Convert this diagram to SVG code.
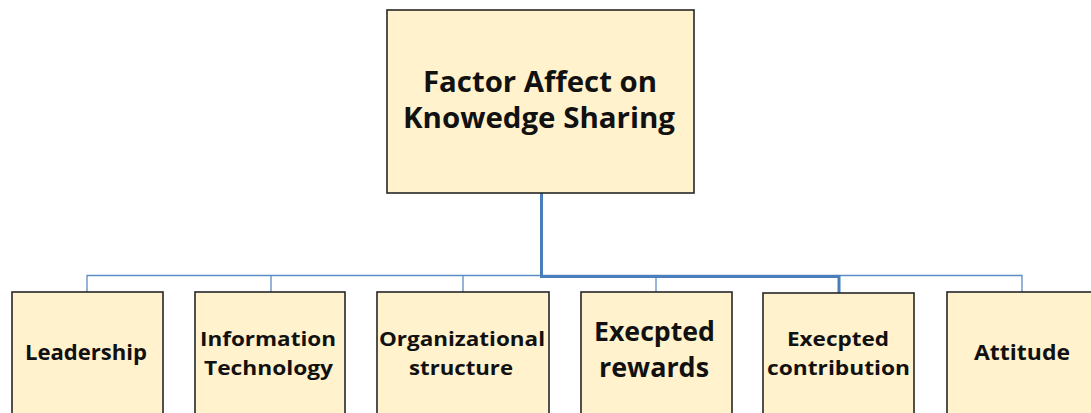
<svg xmlns="http://www.w3.org/2000/svg" width="1091" height="413" viewBox="0 0 1091 413">
  <style>
    .box { fill: #FFF2CC; stroke: #262626; stroke-width: 1.6; }
    .lbl { font-family: "Open Sans", "Liberation Sans", sans-serif; font-weight: 700; fill: #111; text-anchor: middle; }
    .thin { fill: none; stroke: #5B8CC4; stroke-width: 1.3; }
    .thick { fill: none; stroke: #4A7EBB; stroke-width: 3; }
  </style>
  <rect width="1091" height="413" fill="#FFFFFF"/>

  <!-- connectors -->
  <g id="connectors">
    <path class="thin" d="M87 292 V275.5 H1022 V292"/>
    <path class="thin" d="M271 292 V275.5"/>
    <path class="thin" d="M463 292 V275.5"/>
    <path class="thin" d="M656 292 V275.5"/>
    <path class="thick" d="M541.5 193 V276.5 H839 V293"/>
  </g>

  <!-- root -->
  <g id="root">
    <rect class="box" x="387" y="10" width="307" height="183"/>
    <text class="lbl" x="540" y="92" font-size="28" textLength="234" lengthAdjust="spacingAndGlyphs">Factor  Affect on</text>
    <text class="lbl" x="539" y="128" font-size="28" textLength="272" lengthAdjust="spacingAndGlyphs">Knowedge Sharing</text>
  </g>

  <g id="leadership">
    <rect class="box" x="12" y="292" width="151" height="130"/>
    <text class="lbl" x="86" y="360" font-size="22" textLength="122" lengthAdjust="spacingAndGlyphs">Leadership</text>
  </g>

  <g id="information-technology">
    <rect class="box" x="195" y="292" width="150" height="130"/>
    <text class="lbl" x="268" y="346" font-size="20" textLength="136" lengthAdjust="spacingAndGlyphs">Information</text>
    <text class="lbl" x="268.5" y="375" font-size="20" textLength="129" lengthAdjust="spacingAndGlyphs">Technology</text>
  </g>

  <g id="organizational-structure">
    <rect class="box" x="377" y="292" width="172" height="130"/>
    <text class="lbl" x="462" y="346" font-size="20" textLength="166" lengthAdjust="spacingAndGlyphs">Organizational</text>
    <text class="lbl" x="461" y="375" font-size="20" textLength="104" lengthAdjust="spacingAndGlyphs">structure</text>
  </g>

  <g id="expected-rewards">
    <rect class="box" x="581" y="292" width="151" height="130"/>
    <text class="lbl" x="654.5" y="341" font-size="26" textLength="121" lengthAdjust="spacingAndGlyphs">Execpted</text>
    <text class="lbl" x="654" y="377" font-size="26" textLength="110" lengthAdjust="spacingAndGlyphs">rewards</text>
  </g>

  <g id="expected-contribution">
    <rect class="box" x="763" y="293" width="151" height="130"/>
    <text class="lbl" x="838" y="346" font-size="20" textLength="102" lengthAdjust="spacingAndGlyphs">Execpted</text>
    <text class="lbl" x="838.5" y="375" font-size="20" textLength="143" lengthAdjust="spacingAndGlyphs">contribution</text>
  </g>

  <g id="attitude">
    <rect class="box" x="947" y="292" width="152" height="130"/>
    <text class="lbl" x="1022" y="360" font-size="22" textLength="96" lengthAdjust="spacingAndGlyphs">Attitude</text>
  </g>
</svg>
